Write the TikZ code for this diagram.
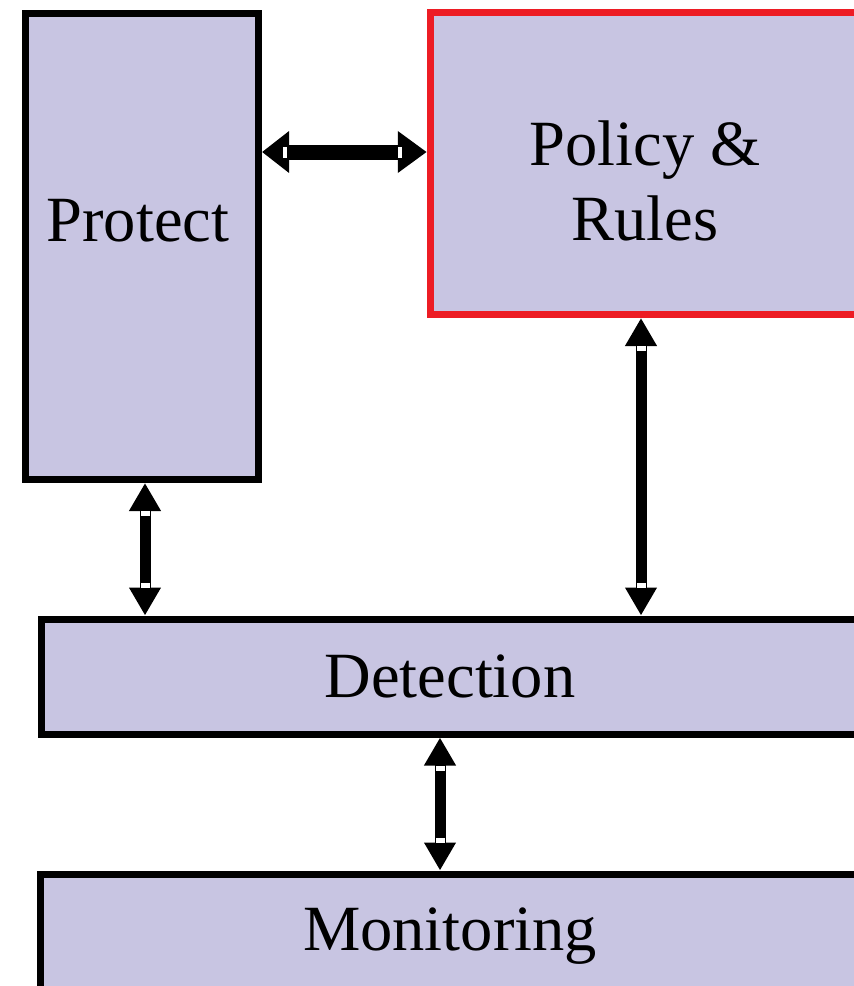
\documentclass[tikz,border=0pt]{standalone}
\usepackage{fontspec}
\setmainfont{Liberation Serif}
\usetikzlibrary{arrows.meta,calc}
\definecolor{boxfill}{RGB}{200,197,226}
\definecolor{rulered}{RGB}{237,28,36}
\tikzset{
  block/.style={rectangle, draw=black, line width=7pt, fill=boxfill, inner sep=0pt},
  lbl/.style={anchor=base, inner sep=0pt, font=\fontsize{64.5}{70}\selectfont},
  vlink/.style={line width=11pt, {Triangle[length=28pt,width=30pt]}-{Triangle[length=28pt,width=30pt]}},
  hlink/.style={line width=15pt, {Triangle[length=27pt,width=40pt]}-{Triangle[length=29pt,width=40pt]}},
  gap/.style={fill=white}
}
\begin{document}
\begin{tikzpicture}[x=1pt,y=-1pt]
\useasboundingbox (0,0) rectangle (854,986);

% boxes
\node[block, minimum width=233pt, minimum height=466pt] (protect) at (142,246.5) {};
\node[block, draw=rulered, minimum width=427.5pt, minimum height=302.5pt] (policy) at (644,163.25) {};
\node[block, minimum width=818pt, minimum height=115pt] (detection) at (450,676.5) {};
\node[block, minimum width=820pt, minimum height=115pt] (monitoring) at (450,931.5) {};

% labels
\node[lbl] (protectText) at (138,241) {Protect};
\node[lbl] (policyText) at (645,165) {Policy \&};
\node[lbl] (rulesText) at (645,240) {Rules};
\node[lbl] (detectionText) at (450,697) {Detection};
\node[lbl] (monitoringText) at (450,950) {Monitoring};

% connector guides
\coordinate (hy) at (0,152);
\coordinate (bx) at (145,0);
\coordinate (cx) at (641,0);
\coordinate (dx) at (440,0);

\coordinate (a1) at (protect.east |- hy);
\coordinate (a2) at (policy.west |- hy);
\coordinate (b1) at (bx |- protect.south);
\coordinate (b2) at (bx |- detection.north);
\coordinate (c1) at (cx |- policy.south);
\coordinate (c2) at (cx |- detection.north);
\coordinate (d1) at (dx |- detection.south);
\coordinate (d2) at (dx |- monitoring.north);

% connectors
\draw[hlink] (a1) -- (a2);
\draw[vlink] (b1) -- (b2);
\draw[vlink] (c1) -- (c2);
\draw[vlink] (d1) -- (d2);

% small white notches where shafts meet heads
\foreach \p/\q in {b1/b2, c1/c2, d1/d2} {
  \fill[gap] ($(\p)+(-4.5,28)$) rectangle ($(\p)+(4.5,33)$);
  \fill[gap] ($(\q)+(-4.5,-33)$) rectangle ($(\q)+(4.5,-28)$);
}
\fill[gap] ($(a1)+(21,-5.5)$) rectangle ($(a1)+(25,5.5)$);
\fill[gap] ($(a2)+(-29,-5.5)$) rectangle ($(a2)+(-25,5.5)$);
\end{tikzpicture}
\end{document}
